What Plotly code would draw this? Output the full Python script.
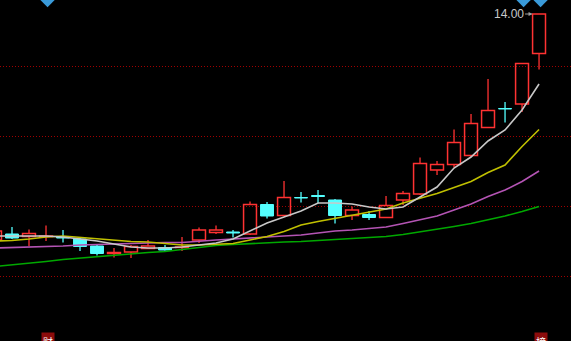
import plotly.graph_objects as go

# candle index (-1 is the partly visible candle at the left edge)
idx = list(range(-1, 32))

opens  = [9.48, 9.60, 9.55, 9.55, 9.54, 9.50, 9.36, 9.21, 9.24, 9.31, 9.33, 9.33, 9.48, 9.63, 9.64, 9.60, 10.19,
          9.97, 10.33, 10.37, 10.28, 9.97, 9.99, 9.93, 10.28, 10.40, 10.88, 10.99, 11.17, 11.73, 12.11, 12.20, 13.21]
closes = [9.66, 9.52, 9.61, 9.56, 9.52, 9.35, 9.21, 9.23, 9.35, 9.36, 9.28, 9.34, 9.68, 9.68, 9.62, 10.19, 9.96,
          10.33, 10.32, 10.35, 9.97, 10.08, 9.93, 10.17, 10.41, 11.01, 10.99, 11.43, 11.81, 12.07, 12.10, 13.01, 14.00]
highs  = [9.70, 9.74, 9.69, 9.77, 9.68, 9.53, 9.40, 9.32, 9.38, 9.48, 9.38, 9.54, 9.73, 9.77, 9.68, 10.25, 10.24,
          10.66, 10.44, 10.48, 10.30, 10.15, 10.06, 10.36, 10.46, 11.13, 11.06, 11.69, 12.00, 12.70, 12.24, 13.01, 14.00]
lows   = [9.44, 9.50, 9.36, 9.46, 9.43, 9.26, 9.17, 9.13, 9.12, 9.31, 9.27, 9.26, 9.42, 9.60, 9.53, 9.58, 9.91,
          9.97, 10.23, 10.21, 9.81, 9.88, 9.88, 9.92, 10.18, 10.38, 10.78, 10.93, 11.15, 11.73, 11.83, 12.04, 12.89]

ma5  = [9.56, 9.56, 9.56, 9.56, 9.54, 9.50, 9.46, 9.40, 9.34, 9.32, 9.32, 9.34, 9.38, 9.42, 9.50, 9.66, 9.82,
        9.94, 10.06, 10.22, 10.22, 10.20, 10.14, 10.10, 10.14, 10.34, 10.54, 10.92, 11.14, 11.46, 11.68, 12.08, 12.60]
ma10 = [9.46, 9.47, 9.50, 9.54, 9.56, 9.53, 9.50, 9.47, 9.45, 9.44, 9.41, 9.38, 9.38, 9.39, 9.41, 9.48, 9.55,
        9.65, 9.78, 9.85, 9.91, 9.98, 10.03, 10.10, 10.22, 10.31, 10.41, 10.53, 10.65, 10.83, 10.98, 11.35, 11.69]
ma20 = [9.32, 9.33, 9.33, 9.35, 9.36, 9.38, 9.39, 9.41, 9.42, 9.43, 9.43, 9.43, 9.46, 9.48, 9.50, 9.52, 9.54,
        9.56, 9.58, 9.62, 9.66, 9.68, 9.71, 9.74, 9.81, 9.88, 9.96, 10.08, 10.20, 10.35, 10.48, 10.65, 10.86]
ma60 = [8.95, 8.98, 9.01, 9.05, 9.09, 9.12, 9.15, 9.17, 9.20, 9.23, 9.25, 9.29, 9.34, 9.37, 9.39, 9.41, 9.43,
        9.44, 9.45, 9.47, 9.49, 9.51, 9.52, 9.55, 9.59, 9.64, 9.69, 9.75, 9.81, 9.88, 9.96, 10.05, 10.15]

grid_prices = [12.96, 11.56, 10.16, 8.76]
event_idx = [2, 30, 31]
label_idx = [2, 31]
label_txt = ["财", "榜"]
high_label = "14.00"

RED = "#ff3232"
CYAN = "#54ffff"

fig = go.Figure()

# wicks
def wick_xy(up):
    xs, ys = [], []
    for i, o, c, h, l in zip(idx, opens, closes, highs, lows):
        if (c >= o) != up:
            continue
        top, bot = max(o, c), min(o, c)
        xs += [i, i, None, i, i, None]
        ys += [h, top, None, bot, l, None]
    return xs, ys

for up, col in [(True, RED), (False, CYAN)]:
    xs, ys = wick_xy(up)
    fig.add_trace(go.Scatter(x=xs, y=ys, mode="lines", line=dict(color=col, width=1.3),
                             hoverinfo="skip", showlegend=False))

# bodies
up_x, up_b, up_h, dn_x, dn_b, dn_h = [], [], [], [], [], []
for i, o, c in zip(idx, opens, closes):
    if c >= o:
        up_x.append(i); up_b.append(o); up_h.append(max(c - o, 0.01))
    else:
        dn_x.append(i); dn_b.append(c); dn_h.append(max(o - c, 0.01))

fig.add_trace(go.Bar(x=up_x, y=up_h, base=up_b, width=0.76,
                     marker=dict(color="rgba(0,0,0,0)", line=dict(color=RED, width=1.5)),
                     hoverinfo="skip", showlegend=False))
fig.add_trace(go.Bar(x=dn_x, y=dn_h, base=dn_b, width=0.76,
                     marker=dict(color=CYAN, line=dict(color=CYAN, width=1.0)),
                     hoverinfo="skip", showlegend=False))

# moving averages
for vals, col in [(ma60, "#00a800"), (ma20, "#b454b4"), (ma10, "#c0c000"), (ma5, "#c8c8c8")]:
    fig.add_trace(go.Scatter(x=idx, y=vals, mode="lines", line=dict(color=col, width=1.6),
                             hoverinfo="skip", showlegend=False))

# top event markers
fig.add_trace(go.Scatter(x=[i + 0.09 for i in event_idx], y=[14.28] * len(event_idx), mode="markers",
                         marker=dict(symbol="diamond", size=11, color="#3a9ad9"),
                         hoverinfo="skip", showlegend=False))

# high price label with arrow
hi_i = idx[highs.index(max(highs))]
fig.add_annotation(x=hi_i - 0.38, y=max(highs), xref="x", yref="y", text=high_label,
                   showarrow=True, arrowhead=2, arrowsize=0.8, arrowwidth=1, arrowcolor="#a0a0a0",
                   ax=-24, ay=0, standoff=0, font=dict(family="Liberation Sans, Arial", size=12, color="#c8c8c8"))

# bottom labels
for i, t in zip(label_idx, label_txt):
    fig.add_annotation(x=i + 0.09, y=0.026, xref="x", yref="paper", text=t, showarrow=False,
                       yanchor="top", bgcolor="#8c0c0c", borderpad=1,
                       font=dict(family="Noto Sans CJK SC", size=10, color="#ffffff"))

fig.update_layout(
    width=571, height=341, margin=dict(l=0, r=0, t=0, b=0),
    paper_bgcolor="#000000", plot_bgcolor="#000000",
    barmode="overlay", showlegend=False,
    xaxis=dict(range=[-0.706, 32.88], showgrid=False, zeroline=False, showticklabels=False, fixedrange=True),
    yaxis=dict(range=[7.46, 14.28], tickvals=grid_prices, showticklabels=False, zeroline=False,
               showgrid=True, gridcolor="#a00000", griddash="1px,2px", gridwidth=1, fixedrange=True),
)

fig.write_html("out.html")
